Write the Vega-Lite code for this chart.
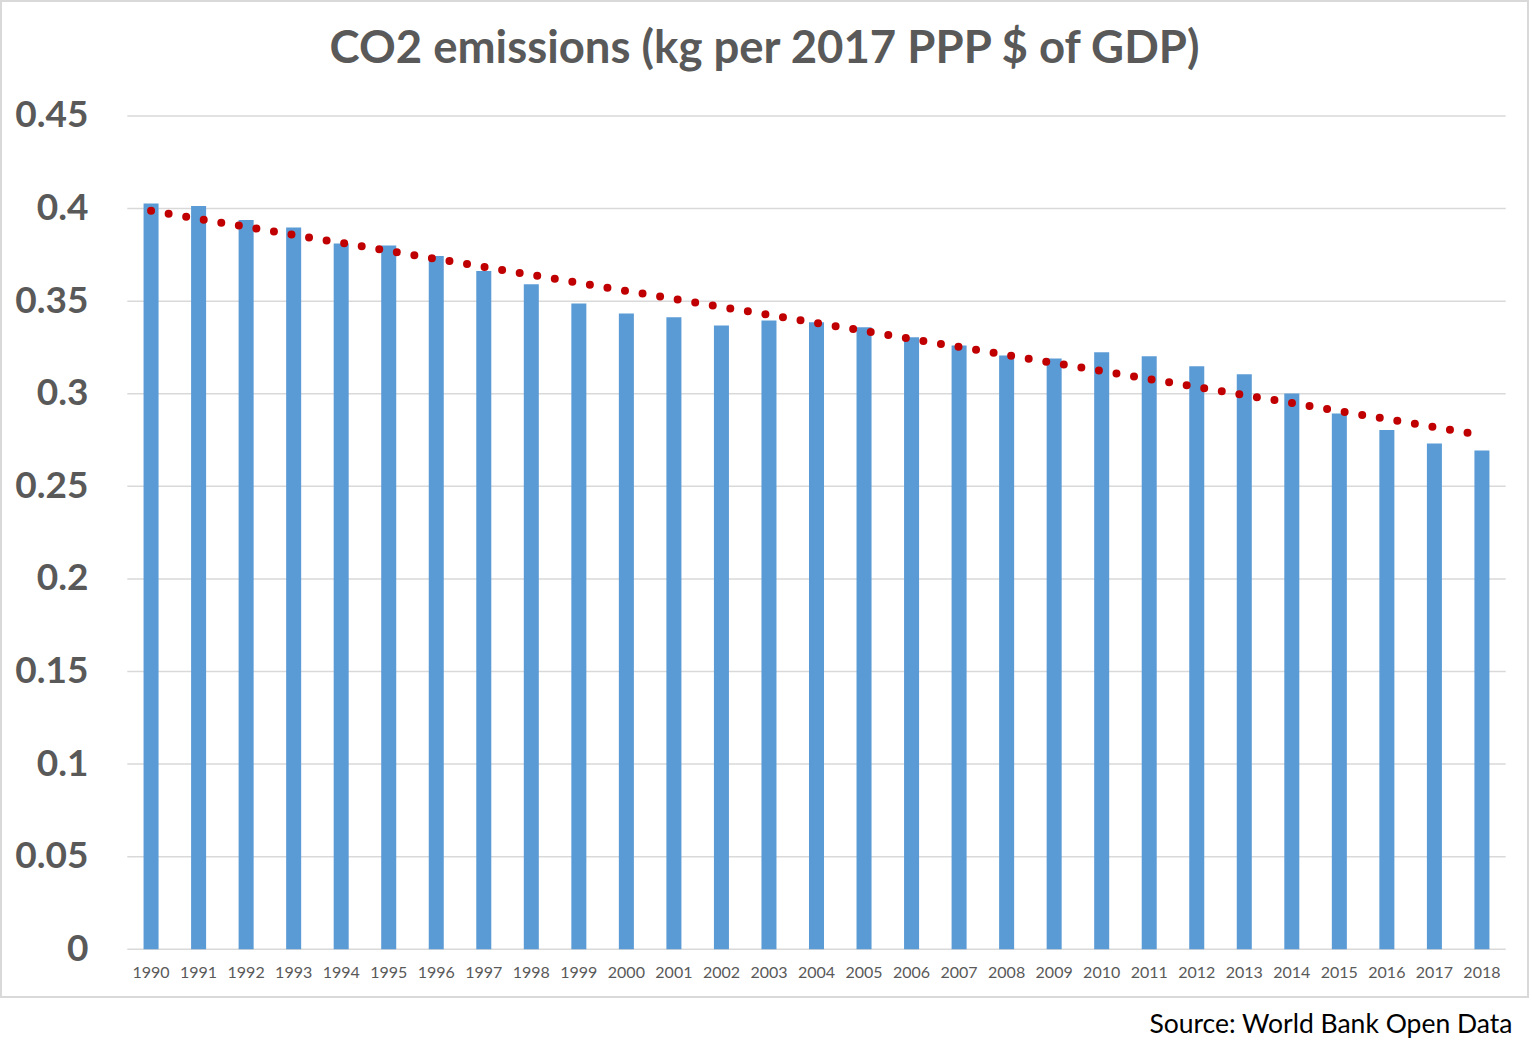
{
  "$schema": "https://vega.github.io/schema/vega-lite/v6.json",
  "width": 1527,
  "height": 996,
  "autosize": {"type": "none"},
  "padding": {"left": 1, "top": 1, "right": 4, "bottom": 62},
  "background": "white",
  "config": {"view": {"stroke": "#d9d9d9", "strokeWidth": 2}, "font": "Lato"},
  "title": {
    "text": "CO2 emissions (kg per 2017 PPP $ of GDP)",
    "font": "Lato",
    "fontSize": 45.5,
    "fontWeight": "bold",
    "color": "#595959",
    "anchor": "middle",
    "offset": -71
  },
  "datasets": {
    "emissions": [
      {"year": "1990", "value": 0.4028},
      {"year": "1991", "value": 0.4014},
      {"year": "1992", "value": 0.3938},
      {"year": "1993", "value": 0.3898},
      {"year": "1994", "value": 0.3812},
      {"year": "1995", "value": 0.3801},
      {"year": "1996", "value": 0.3744},
      {"year": "1997", "value": 0.3663},
      {"year": "1998", "value": 0.3591},
      {"year": "1999", "value": 0.3488},
      {"year": "2000", "value": 0.3434},
      {"year": "2001", "value": 0.3413},
      {"year": "2002", "value": 0.3369},
      {"year": "2003", "value": 0.3396},
      {"year": "2004", "value": 0.3386},
      {"year": "2005", "value": 0.3359},
      {"year": "2006", "value": 0.3305},
      {"year": "2007", "value": 0.3261},
      {"year": "2008", "value": 0.3207},
      {"year": "2009", "value": 0.3191},
      {"year": "2010", "value": 0.3224},
      {"year": "2011", "value": 0.3202},
      {"year": "2012", "value": 0.3148},
      {"year": "2013", "value": 0.3105},
      {"year": "2014", "value": 0.3002},
      {"year": "2015", "value": 0.2894},
      {"year": "2016", "value": 0.2804},
      {"year": "2017", "value": 0.2732},
      {"year": "2018", "value": 0.2694}
    ],
    "trend": [
      {"year": "1990", "value": 0.3988},
      {"year": "2018", "value": 0.2777}
    ],
    "grid": [
      {"v": 0}, {"v": 0.05}, {"v": 0.1}, {"v": 0.15}, {"v": 0.2},
      {"v": 0.25}, {"v": 0.3}, {"v": 0.35}, {"v": 0.4}, {"v": 0.45}
    ]
  },
  "layer": [
    {
      "data": {"name": "grid"},
      "mark": {"type": "rule", "color": "#d9d9d9", "strokeWidth": 1.5},
      "encoding": {
        "x": {"datum": "1990", "type": "ordinal", "bandPosition": -1.0823},
        "x2": {"datum": "2018", "bandPosition": 2.0823},
        "y": {
          "field": "v",
          "type": "quantitative",
          "scale": {"domain": [-0.02576, 0.5121], "nice": false, "zero": false},
          "axis": {
            "values": [0, 0.05, 0.1, 0.15, 0.2, 0.25, 0.3, 0.35, 0.4, 0.45],
            "format": "~g",
            "grid": false,
            "domain": false,
            "ticks": false,
            "title": null,
            "offset": -87,
            "labelPadding": 0,
            "labelFont": "Lato",
            "labelFontSize": 37,
            "labelFontWeight": "bold",
            "labelColor": "#595959",
            "labelOverlap": false
          }
        }
      }
    },
    {
      "data": {"name": "emissions"},
      "mark": {"type": "bar", "color": "#5b9bd5"},
      "encoding": {
        "x": {
          "field": "year",
          "type": "ordinal",
          "scale": {"range": [126.3, 1504.7], "paddingInner": 0.684, "paddingOuter": 0.342},
          "axis": {
            "orient": "bottom",
            "offset": -47.7,
            "domain": false,
            "ticks": false,
            "grid": false,
            "labelAngle": 0,
            "labelAlign": "center",
            "labelFont": "Lato",
            "labelFontSize": 16,
            "labelColor": "#595959",
            "labelPadding": 23,
            "labelOverlap": false,
            "title": "Source: World Bank Open Data",
            "titleFont": "Lato",
            "titleFontSize": 26.5,
            "titleFontWeight": "normal",
            "titleColor": "#000000",
            "titleX": 1511,
            "titleY": 83.4,
            "titleAlign": "right",
            "titleBaseline": "alphabetic"
          }
        },
        "y": {"field": "value", "type": "quantitative"},
        "y2": {"datum": 0}
      }
    },
    {
      "data": {"name": "trend"},
      "mark": {
        "type": "line",
        "color": "#c00000",
        "strokeWidth": 8,
        "strokeDash": [0, 17.8],
        "strokeCap": "round"
      },
      "encoding": {
        "x": {"field": "year", "type": "ordinal"},
        "y": {"field": "value", "type": "quantitative"}
      }
    }
  ]
}
